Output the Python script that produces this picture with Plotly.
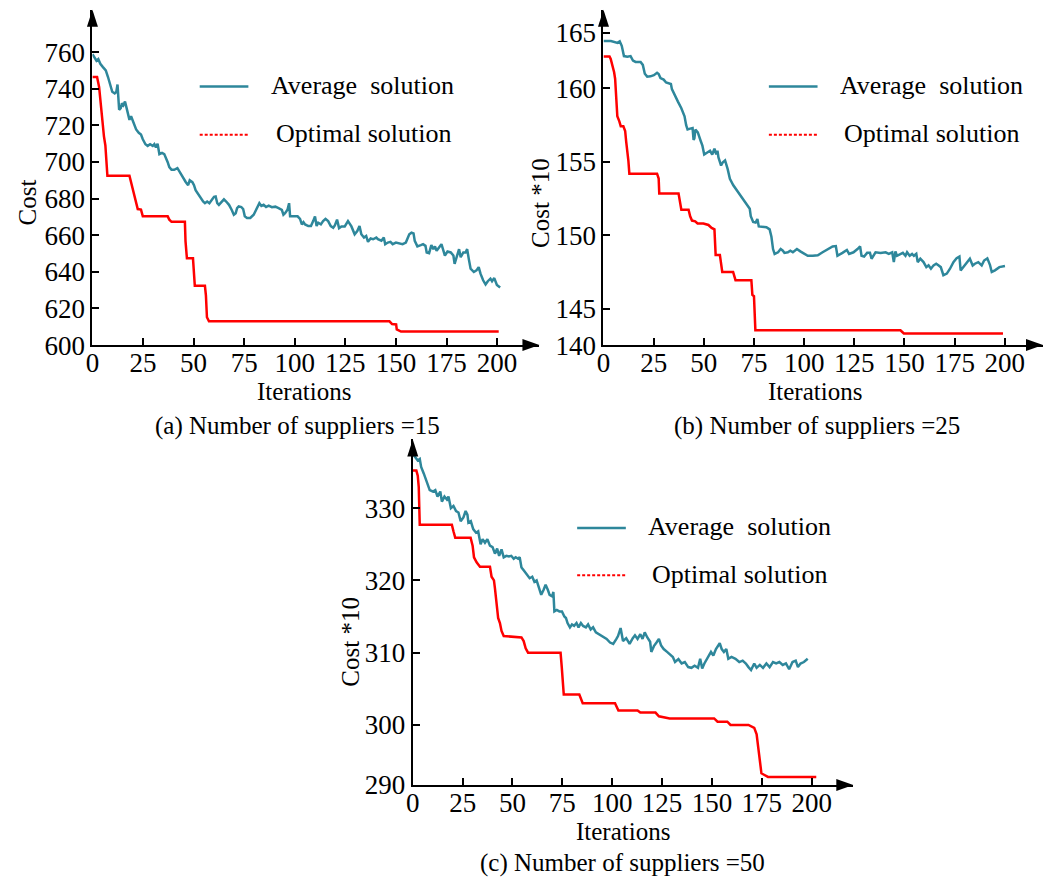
import plotly.graph_objects as go

# ---------------- data ----------------
iters_ticks = [0, 25, 50, 75, 100, 125, 150, 175, 200]

# (a) Number of suppliers = 15
a_avg_x = [0, 1, 2, 2.9, 3.9, 5.2, 6.6, 7.7, 8.8, 9.8, 11, 11.8, 12.4, 13.2, 14, 14.6, 15.3, 16.1, 16.9, 17.5,
           18.3, 19.1, 20, 20.8, 21.6, 22.9, 24, 24.9, 26.2, 27.3, 28.5, 29.8, 30.6, 31.4, 32.2, 33.1, 34.4, 35.5,
           36.3, 37.2, 38, 39.1, 40.4, 42, 43.2, 44.5, 46.1, 47.3, 48.1, 49.4, 50.2, 51, 52.4, 53.5, 54.7, 55.6,
           56.7, 57.8, 59.3, 60.1, 60.9, 61.7, 62.5, 63.8, 65, 66.1, 67.5, 68.8, 69.9, 70.8, 71.5, 72.3, 73.6,
           74.5, 75.3, 76.4, 78, 79.7, 81.4, 82.5, 83.5, 84.6, 85.8, 87.1, 88.7, 90.4, 92, 93.6, 94.4, 95.2, 96.4,
           97.2, 97.7, 98.8, 100.1, 101.4, 102.6, 103.5, 104.3, 105.1, 106.7, 108, 109.1, 110, 110.8, 111.6, 112.9,
           114, 115.2, 116.5, 117.8, 119, 119.8, 120.9, 121.9, 123.1, 124.7, 126.3, 128, 128.8, 129.6, 130.9, 132,
           132.9, 134.2, 135.3, 136.2, 137.5, 138.7, 140.3, 141.1, 142.8, 144, 144.7, 146, 147.3, 148.4, 150, 151.7,
           153.3, 154.9, 156.6, 157.7, 158.7, 159.3, 160.6, 162.3, 163.4, 164.6, 165.2, 166.4, 167.5, 168.5, 169.3,
           170.1, 171.3, 172.5, 173.5, 174.2, 175.5, 177.1, 178.4, 179, 180, 181.2, 182, 183.3, 184.4, 185.2, 186,
           186.9, 188.5, 189.8, 190.9, 191.8, 193.1, 194.3, 195.4, 196.7, 197.5, 198.6, 199.9, 201.5]
a_avg_y = [758.9, 757, 755.3, 756.2, 753.6, 751.8, 750, 746.4, 742.8, 738.3, 737.4, 738.3, 742.3, 728.5, 729.4, 732,
           731, 733, 729.4, 726.7, 723, 725, 722.4, 719.6, 717.8, 715.9, 715, 712.4, 709.7, 708.8, 709.7, 708.8,
           709.7, 708, 710, 704.3, 705, 704.3, 702.5, 699.9, 697.2, 695.7, 695.7, 696.6, 694.5, 691.8, 689.1, 687.3,
           690, 689, 687.3, 684.6, 682, 680.2, 678.4, 677.5, 678.4, 677.5, 679.6, 681, 681.2, 677.5, 676.6, 678.4,
           679.6, 678.4, 676.6, 673.9, 671.2, 672, 674.8, 675.7, 675.4, 674.3, 670.3, 669.4, 669.4, 671.2, 674.8,
           677.5, 676, 676.6, 675.4, 676.2, 675.3, 675.6, 674.8, 673.9, 671.2, 672, 673.9, 677.5, 670.3, 670.3, 670,
           670.3, 668.9, 665.9, 667.1, 665.9, 665, 665, 667.7, 670.3, 665, 666.8, 665.9, 667.7, 668.9, 667.7, 665,
           664.1, 665.4, 668.5, 663.9, 664.8, 664.8, 667.7, 664.8, 662.3, 660.5, 662.3, 665, 660.5, 658.7, 659.6,
           656.4, 658.2, 657.8, 658.7, 657.8, 657, 658.7, 655.1, 656, 656.4, 655.1, 656, 655.6, 655.1, 656, 660.5,
           661.4, 661, 656.9, 653.9, 654.6, 655.1, 654.2, 650.6, 650.2, 654.6, 652.4, 653.9, 651.5, 653.3, 655.1,
           651.5, 648.9, 651.1, 650.6, 648.9, 644.4, 648, 652.4, 648, 650.6, 650.6, 652.4, 647.1, 641.7, 639.9,
           640.8, 642.6, 639, 635.4, 633.1, 634.9, 636.3, 634.9, 636.6, 632.8, 631.4]
a_opt_x = [0, 2.3, 3.3, 4.1, 4.9, 5.7, 6.4, 6.9, 7.4, 18.3, 19.1, 20, 20.8, 21.6, 22.4, 24, 24.9, 37.2, 38, 39.1,
           45.7, 46, 46.4, 46.7, 49.7, 50.2, 50.6, 55.6, 56.1, 56.6, 57.6, 146.8, 148.1, 150.1, 150.4, 152.5, 200.8]
a_opt_y = [746.4, 746.4, 741, 731, 723, 714, 709, 701, 692.5, 692.5, 689, 685.7, 681, 679, 674.3, 674, 670.3, 670.3,
           668.5, 667.3, 667.3, 656.8, 650, 647.4, 647.4, 637.5, 632.4, 632.4, 627, 615.2, 613, 613, 611.5, 611.3,
           608.6, 607.4, 607.4]
a_ytick_vals = [600, 620, 640, 660, 680, 700, 720, 740, 760]
a_ytick_text = ["600", "620", "640", "660", "680", "700", "720", "740", "760"]

# (b) Number of suppliers = 25  (Cost *10)
b_avg_x = [0, 3.7, 7.0, 8.1, 9.1, 10.2, 11.9, 13.5, 14.7, 16, 18.5, 19.6, 20.6, 21.8, 23.4, 25.1, 26.7, 27.5, 28.4,
           30.0, 31.2, 32.8, 33.6, 34.1, 35.5, 37.1, 38.8, 40.4, 41.2, 41.9, 43.2, 44.4, 44.9, 45.3, 45.8, 47.0,
           48.5, 49.3, 50.2, 51.5, 53.1, 54.2, 55.3, 56.2, 56.8, 57.3, 57.9, 58.6, 59.5, 60.6, 61.9, 63.0, 64.7,
           66.3, 68.0, 69.6, 71.3, 72.9, 73.4, 74.6, 75.8, 76.7, 77.4, 79.0, 81.2, 82.8, 83.7, 84.5, 85.3, 87,
           88.3, 89.4, 90.2, 91.9, 93.1, 94.4, 96.4, 98.1, 100.1, 101.8, 104.3, 106.8, 109.2, 111.7, 114.2, 115.8,
           116.6, 119.1, 121.3, 122.4, 124.6, 126.6, 127.9, 128.6, 129.9, 131.4, 132.8, 133.6, 134.4, 135.6, 138.1,
           140.6, 142.2, 143.9, 144.7, 145.5, 146.3, 147.9, 149.2, 150.5, 151.3, 152.6, 153.8, 154.7, 155.9, 156.6,
           157.9, 159.5, 160.9, 162.0, 163.2, 164.5, 165.8, 166.9, 168.1, 169.4, 171.1, 172.7, 174.4, 176.0, 177.4,
           178.0, 179.3, 181.0, 182.6, 184.0, 185.1, 186.8, 188.5, 189.7, 191.3, 192.6, 193.5, 195.1, 197.3, 200.1]
b_avg_y = [163.23, 163.23, 163.1, 163.2, 162.9, 162.2, 162.15, 162.2, 161.9, 161.8, 161.8, 161.6, 161.0, 160.8,
           160.82, 160.9, 161.06, 160.98, 160.7, 160.6, 160.4, 160.36, 160.3, 159.95, 159.5, 159.1, 158.65, 158.1,
           157.5, 157.2, 157.26, 157.3, 156.5, 156.6, 157.2, 157.0, 156.4, 156.1, 155.5, 155.6, 155.75, 155.5,
           155.9, 155.5, 155.75, 155.3, 155.1, 154.75, 154.97, 155.1, 154.5, 153.85, 153.4, 153.1, 152.7, 152.4,
           152.1, 151.8, 151.3, 150.9, 150.86, 151.1, 150.6, 150.56, 150.55, 150.4, 149.9, 149.06, 148.73, 148.84,
           149.06, 148.95, 148.8, 148.84, 148.95, 148.84, 149.06, 148.9, 148.73, 148.6, 148.6, 148.64, 148.84,
           149.02, 149.24, 149.26, 148.6, 148.8, 149.0, 148.73, 148.84, 149.06, 149.24, 148.6, 148.55, 148.8, 148.8,
           148.4, 148.6, 148.84, 148.8, 148.84, 148.73, 148.84, 148.17, 148.9, 148.6, 148.73, 148.8, 148.6, 148.84,
           148.6, 148.73, 148.6, 148.73, 148.17, 148.4, 148.17, 147.83, 147.95, 147.72, 147.95, 148.06, 147.95,
           147.83, 147.28, 147.39, 147.72, 148.17, 148.43, 148.55, 147.6, 147.83, 148.17, 148.4, 147.94, 148.06,
           148.17, 147.95, 148.28, 148.43, 147.99, 147.5, 147.61, 147.83, 147.9]
b_opt_x = [0, 3, 3.6, 4.5, 5.3, 5.8, 6.3, 6.9, 7.9, 8.6, 9.9, 10.8, 11.3, 11.9, 12.4, 12.9, 26.7, 27.5, 27.8, 37.4,
           38.2, 38.8, 42.4, 43.2, 44.1, 45.7, 46.9, 49.8, 52.3, 53.9, 55.3, 55.6, 55.9, 58.0, 58.6, 59.2, 64.6,
           65.8, 73.7, 74.2, 75.0, 75.7, 148.0, 149.7, 199.1]
b_opt_y = [162.18, 162.18, 162.0, 161.55, 161.1, 160.66, 159.44, 158.1, 157.76, 157.43, 157.43, 157.1, 156.4,
           155.76, 155.09, 154.19, 154.19, 153.86, 152.85, 152.85, 152.18, 151.74, 151.74, 151.29, 151.0, 150.95,
           150.8, 150.8, 150.7, 150.5, 150.4, 149.4, 148.66, 148.66, 148.17, 147.5, 147.5, 146.94, 146.94, 145.94,
           145.85, 143.53, 143.53, 143.31, 143.31]
b_ytick_vals = [142.52, 145, 150, 155, 160, 163.8]
b_ytick_text = ["140", "145", "150", "155", "160", "165"]

# (c) Number of suppliers = 50  (Cost *10)
c_avg_x = [0, 1.3, 2.5, 3.5, 4.2, 5.5, 6.8, 8.5, 10.1, 11.3, 12.4, 13.8, 14.6, 15.9, 17.1, 17.9, 19.1, 20.4, 21.7,
           22.9, 24.0, 25.4, 26.5, 27.4, 27.9, 29.1, 30.3, 31.7, 32.8, 34.0, 35.0, 36.2, 37.4, 38.7, 40.0, 41.2,
           42.3, 43.3, 44.5, 45.6, 46.9, 48.2, 49.4, 50.6, 51.6, 52.8, 53.6, 54.5, 55.6, 56.9, 58.6, 59.9, 61.0,
           62.1, 63.2, 64.4, 65.6, 66.6, 67.7, 68.6, 69.9, 70.5, 71.0, 72.2, 73.5, 74.8, 76.0, 76.8, 77.6, 78.8,
           79.8, 80.9, 82.1, 83.1, 84.3, 85.4, 86.8, 87.9, 89.2, 90.4, 91.8, 93.1, 95.6, 97.2, 98.9, 100.5, 102.1,
           102.9, 104.2, 105.4, 107.0, 108.7, 110.3, 111.4, 112.7, 114.1, 115.2, 116.3, 117.6, 119.0, 119.6, 120.9,
           122.2, 123.4, 124.5, 125.8, 127.5, 128.8, 130.4, 131.5, 133.2, 134.8, 136.4, 138.1, 139.7, 141.3, 143.0,
           144.1, 145.1, 146.2, 147.9, 149.5, 150.7, 152.0, 153.9, 154.9, 156.0, 157.2, 158.2, 159.8, 161.8, 163.7,
           165.4, 167.0, 168.3, 169.6, 171.2, 172.4, 174.0, 175.6, 177.3, 178.9, 180.6, 182.2, 183.8, 185.5, 187.1,
           188.7, 190.4, 192.0, 193.1, 194.4, 196.1, 198.0]
c_avg_y = [337.5, 337.0, 336.6, 336.8, 335.7, 334.8, 333.9, 332.5, 332.3, 332.5, 331.6, 332.3, 330.9, 331.6, 331.2,
           331.6, 330.0, 330.3, 329.6, 329.4, 328.2, 328.7, 329.6, 329.1, 328.0, 328.2, 327.1, 326.6, 326.8, 325.0,
           325.7, 325.2, 325.7, 324.8, 324.6, 323.7, 324.4, 323.4, 324.3, 323.2, 323.4, 323.3, 323.4, 323.0,
           323.2, 323.0, 323.2, 321.8, 321.4, 320.9, 320.3, 320.5, 319.8, 320.0, 319.1, 318.0, 318.7, 319.4, 318.7,
           318.0, 317.8, 318.4, 315.7, 315.9, 315.7, 315.7, 315.0, 314.8, 314.1, 313.5, 313.9, 313.7, 314.1,
           313.5, 314.1, 313.7, 313.5, 313.9, 313.2, 313.5, 312.8, 312.6, 312.1, 311.9, 311.4, 311.2, 311.9, 312.3,
           313.4, 311.6, 312.0, 311.2, 312.0, 312.4, 311.9, 312.55, 311.9, 312.8, 312.1, 311.5, 310.1, 310.9,
           311.4, 311.9, 311.0, 310.5, 310.1, 309.8, 309.4, 308.7, 309.1, 308.5, 308.7, 308.0, 307.9, 308.2, 307.9,
           309.15, 307.8, 308.5, 309.4, 310.1, 309.6, 310.5, 311.3, 310.5, 310.1, 310.5, 309.15, 309.4, 309.15,
           308.7, 308.9, 308.5, 308.0, 307.6, 308.5, 307.9, 308.3, 307.9, 308.5, 308.0, 308.7, 308.5, 308.7, 308.3,
           308.5, 307.7, 308.7, 308.9, 308.0, 308.5, 308.7, 309.15]
c_opt_x = [0, 1.8, 2.5, 3.0, 3.5, 19.6, 20.4, 21.3, 29.0, 30.0, 30.7, 32.0, 33.7, 38.7, 39.5, 40.7, 41.2, 42.0, 42.8,
           43.7, 44.5, 45.6, 54.5, 55.6, 56.6, 57.8, 74.1, 74.7, 75.2, 75.7, 83.5, 85.2, 101.4, 103.1, 112.7, 114.1,
           121.7, 123.4, 128.8, 151.1, 152.8, 157.7, 159.3, 168.3, 171.2, 172.4, 173.2, 174.0, 174.8, 176.1, 178.1,
           202.3]
c_opt_y = [335.2, 335.2, 334.5, 332.9, 327.7, 327.7, 326.8, 325.9, 325.9, 324.8, 323.2, 322.5, 321.9, 321.9, 320.5,
           320.0, 318.9, 317.1, 314.8, 314.1, 313.0, 312.3, 312.1, 311.6, 310.6, 310.0, 310.0, 308.0, 306.6, 304.2,
           304.2, 303.0, 303.0, 302.0, 302.0, 301.7, 301.7, 301.2, 300.9, 300.9, 300.45, 300.45, 300.0, 300.0, 299.6,
           298.7, 296.9, 295.1, 293.3, 293.1, 292.8, 292.8]
c_ytick_vals = [291.7, 300, 310, 320, 330]
c_ytick_text = ["290", "300", "310", "320", "330"]

legend_names = ["Average\u00a0 solution", "Optimal solution"]
captions = ["(a) Number of suppliers =15", "(b) Number of suppliers =25", "(c) Number of suppliers =50"]

# ---------------- styling / layout ----------------
W, H = 1047, 892
TEAL = "#2e879b"
RED = "#ff0000"
FONT = "Liberation Serif, Times New Roman, serif"


def fx(px):
    return px / W


def fy(py):
    return 1 - py / H


fig = go.Figure()

panels = [
    dict(ax="", avg=(a_avg_x, a_avg_y), opt=(a_opt_x, a_opt_y),
         xdom=(86, 536), xr=(0, (536 - 86) / 2.037),
         ydom=(351, 10), yr=(600, 600 + 341 / 1.8625),
         ytv=a_ytick_vals, ytt=a_ytick_text),
    dict(ax="2", avg=(b_avg_x, b_avg_y), opt=(b_opt_x, b_opt_y),
         xdom=(600.5, 1043), xr=(0, (1043 - 600.5) / 2.02),
         ydom=(351, 10), yr=(142.52, 165.35),
         ytv=b_ytick_vals, ytt=b_ytick_text),
    dict(ax="3", avg=(c_avg_x, c_avg_y), opt=(c_opt_x, c_opt_y),
         xdom=(408.5, 852), xr=(0, (852 - 408.5) / 2.008),
         ydom=(798.3, 447), yr=(291.7, 339.5),
         ytv=c_ytick_vals, ytt=c_ytick_text),
]

axis_common = dict(showline=True, linecolor="black", linewidth=2, ticks="inside", ticklen=7,
                   tickwidth=2, tickcolor="black", showgrid=False, zeroline=False,
                   tickfont=dict(family=FONT, size=27, color="black"))

shapes = []
for p in panels:
    a = p["ax"]
    fig.add_trace(go.Scatter(x=p["opt"][0], y=p["opt"][1], mode="lines",
                             line=dict(color=RED, width=2.5), showlegend=False,
                             xaxis="x" + a, yaxis="y" + a))
    fig.add_trace(go.Scatter(x=p["avg"][0], y=p["avg"][1], mode="lines",
                             line=dict(color=TEAL, width=2.5), showlegend=False,
                             xaxis="x" + a, yaxis="y" + a))
    fig.layout["xaxis" + a] = dict(axis_common, domain=[fx(p["xdom"][0]), fx(p["xdom"][1])],
                                   range=list(p["xr"]), tickvals=iters_ticks,
                                   ticktext=[str(t) for t in iters_ticks],
                                   ticklabelstandoff=-7, anchor="y" + a)
    fig.layout["yaxis" + a] = dict(axis_common, domain=[fy(p["ydom"][0]), fy(p["ydom"][1])],
                                   range=list(p["yr"]), tickvals=p["ytv"], ticktext=p["ytt"],
                                   anchor="x" + a)
    # arrow heads
    shapes.append(dict(type="path", xref="paper", yref="paper", xsizemode="pixel", ysizemode="pixel",
                       xanchor=fx(p["xdom"][1]), yanchor=fy(p["ydom"][0]),
                       path="M0,0 L-17,6 L-17,-6 Z", fillcolor="black", line=dict(width=0)))
    shapes.append(dict(type="path", xref="paper", yref="paper", xsizemode="pixel", ysizemode="pixel",
                       xanchor=fx(p["xdom"][0]), yanchor=fy(p["ydom"][1]),
                       path="M0,0 L-5.5,-17 L5.5,-17 Z", fillcolor="black", line=dict(width=0)))

# manual legends: (sample x0, x1, y_avg, y_opt, text x avg, text x opt)
legend_pos = [(194, 243, 88, 137, 264, 269),
              (767, 816, 88, 137, 837, 841),
              (574, 623, 537, 585, 643, 647)]
annotations = []
for (x0, x1, ya, yo, ta, to) in legend_pos:
    shapes.append(dict(type="line", xref="paper", yref="paper", x0=fx(x0), x1=fx(x1), y0=fy(ya), y1=fy(ya),
                       line=dict(color=TEAL, width=2.5)))
    shapes.append(dict(type="line", xref="paper", yref="paper", x0=fx(x0), x1=fx(x1), y0=fy(yo), y1=fy(yo),
                       line=dict(color=RED, width=2, dash="3px,2px")))
    annotations.append(dict(text=legend_names[0], x=fx(ta), y=fy(ya - 1), xref="paper", yref="paper",
                            xanchor="left", yanchor="middle", showarrow=False,
                            font=dict(family=FONT, size=26, color="black")))
    annotations.append(dict(text=legend_names[1], x=fx(to), y=fy(yo - 1), xref="paper", yref="paper",
                            xanchor="left", yanchor="middle", showarrow=False,
                            font=dict(family=FONT, size=26, color="black")))

# axis titles and captions
titles = [("Iterations", 299, 398, 0), ("Iterations", 813, 398, 0), ("Iterations", 620, 846, 0),
          ("Cost", 21, 206, -90), ("Cost *10", 537, 206, -90), ("Cost *10", 345, 653, -90),
          (captions[0], 292, 433, 0), (captions[1], 815, 433, 0), (captions[2], 620, 878, 0)]
for t, x, y, rot in titles:
    annotations.append(dict(text=t, x=fx(x), y=fy(y), xref="paper", yref="paper", xanchor="center",
                            yanchor="middle", showarrow=False, textangle=rot,
                            font=dict(family=FONT, size=25, color="black")))

fig.update_layout(width=W, height=H, margin=dict(l=0, r=0, t=0, b=0), autosize=False,
                  plot_bgcolor="white", paper_bgcolor="white", showlegend=False,
                  shapes=shapes, annotations=annotations)

fig.write_html("out.html")
